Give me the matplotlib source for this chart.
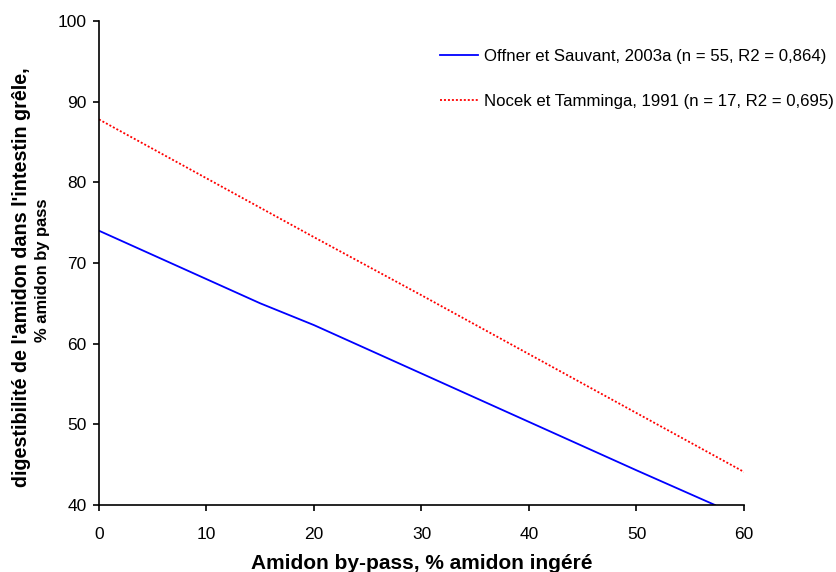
import matplotlib
matplotlib.use("Agg")
import matplotlib.pyplot as plt

plt.rcParams['font.family'] = ['Liberation Sans', 'DejaVu Sans']

# Data
offner_x = [0, 10, 15, 20, 30, 40, 50, 57.3]
offner_y = [74.0, 68.0, 65.0, 62.3, 56.3, 50.3, 44.3, 40.0]
nocek_x = [0, 10, 20, 30, 40, 50, 60]
nocek_y = [87.8, 80.5, 73.2, 66.0, 58.7, 51.4, 44.1]

labels = ["Offner et Sauvant, 2003a (n = 55, R2 = 0,864)",
          "Nocek et Tamminga, 1991 (n = 17, R2 = 0,695)"]
xticks = [0, 10, 20, 30, 40, 50, 60]
yticks = [40, 50, 60, 70, 80, 90, 100]

fig = plt.figure(figsize=(8.37, 5.72), dpi=100)
ax = fig.add_axes([99/837, 1-505/572, (744-99)/837, (505-21)/572])

ax.plot(offner_x, offner_y, color='#0000FF', lw=1.3, label=labels[0])
ax.plot(nocek_x, nocek_y, color='#FF0000', lw=1.3, ls=(0, (1.1, 1.1)), label=labels[1])

ax.set_xlim(0, 60)
ax.set_ylim(40, 100)
ax.set_xticks(xticks)
ax.set_yticks(yticks)
ax.spines['top'].set_visible(False)
ax.spines['right'].set_visible(False)
ax.spines['left'].set_linewidth(1.2)
ax.spines['bottom'].set_linewidth(1.2)
ax.tick_params(direction='out', length=4.5, width=1.2, labelsize=12.5, colors='black')
ax.tick_params(axis='x', pad=11)
ax.tick_params(axis='y', pad=4.5)

ax.set_xlabel("Amidon by-pass, % amidon ingéré", fontsize=15, fontweight='bold', labelpad=9)

fig.text(22/837, 1-277/572, "digestibilité de l'amidon dans l'intestin grêle,",
         rotation=90, ha='center', va='center', fontsize=14.2, fontweight='bold')
fig.text(43/837, 1-270/572, "% amidon by pass",
         rotation=90, ha='center', va='center', fontsize=11.9, fontweight='bold')

leg = ax.legend(loc='center left', bbox_to_anchor=(440/837, 1-79/572), bbox_transform=fig.transFigure,
                frameon=False, fontsize=12.1, handlelength=2.26, handletextpad=0.36,
                labelspacing=1.8, borderaxespad=0, borderpad=0)

fig.savefig("out.png", dpi=100)
